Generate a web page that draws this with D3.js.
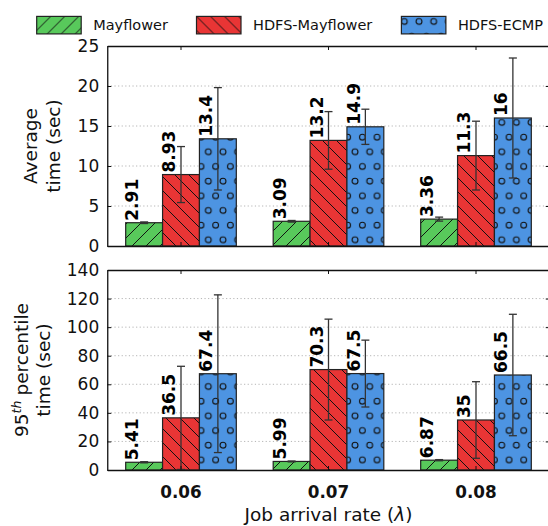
<!DOCTYPE html>
<html><head><meta charset="utf-8">
<script src="https://cdn.jsdelivr.net/npm/d3@7"></script>
<style>body{margin:0;background:#fff} svg{display:block;font-family:"DejaVu Sans",sans-serif}</style>
</head><body><svg id="chart" width="548" height="526"></svg>
<script>
// ---------- data ----------
const categories = ["0.06", "0.07", "0.08"];
const seriesNames = ["Mayflower", "HDFS-Mayflower", "HDFS-ECMP"];

const avgMayflower      = [2.91, 3.09, 3.36];
const avgHdfsMayflower  = [8.93, 13.2, 11.3];
const avgHdfsEcmp       = [13.4, 14.9, 16.0];
const avgErrMayflower     = [0.1, 0.1, 0.25];
const avgErrHdfsMayflower = [3.5, 3.6, 4.3];
const avgErrHdfsEcmp      = [6.4, 2.2, 7.5];

const p95Mayflower      = [5.41, 5.99, 6.87];
const p95HdfsMayflower  = [36.5, 70.3, 35.0];
const p95HdfsEcmp       = [67.4, 67.5, 66.5];
const p95ErrMayflower     = [0.4, 0.3, 0.4];
const p95ErrHdfsMayflower = [36.1, 35.3, 26.8];
const p95ErrHdfsEcmp      = [55.2, 23.4, 42.5];

const avgTicks = [0, 5, 10, 15, 20, 25];
const p95Ticks = [0, 20, 40, 60, 80, 100, 120, 140];

// ---------- style ----------
const seriesColors = ["#58c95b", "#e93535", "#4d94e2"];
const seriesHatch = ["hatch-ne", "hatch-nw", "hatch-circ"];
const FONT = '"DejaVu Sans", sans-serif';

const svg = d3.select("#chart");
const defs = svg.append("defs");

// hatch patterns
const s = 14;
const pNE = defs.append("pattern").attr("id", "hatch-ne").attr("patternUnits", "userSpaceOnUse")
  .attr("width", s).attr("height", s);
pNE.append("path")
  .attr("d", `M0,${s} L${s},0 M${-s/4},${s/4} L${s/4},${-s/4} M${3*s/4},${5*s/4} L${5*s/4},${3*s/4}`)
  .attr("stroke", "#111").attr("stroke-width", 1).attr("fill", "none");
const pNW = defs.append("pattern").attr("id", "hatch-nw").attr("patternUnits", "userSpaceOnUse")
  .attr("width", s).attr("height", s);
pNW.append("path")
  .attr("d", `M0,0 L${s},${s} M${-s/4},${3*s/4} L${s/4},${5*s/4} M${3*s/4},${-s/4} L${5*s/4},${s/4}`)
  .attr("stroke", "#111").attr("stroke-width", 1).attr("fill", "none");
const cs = 14.67;
const pC = defs.append("pattern").attr("id", "hatch-circ").attr("patternUnits", "userSpaceOnUse")
  .attr("width", cs).attr("height", 2 * cs);
const base = [[2.96, 5.05], [2.96 + cs / 2, 5.05 + cs]];
base.forEach(([cx, cy]) => {
  [[0,0],[cs,0],[-cs,0],[0,2*cs],[0,-2*cs]].forEach(([dx, dy]) => {
    pC.append("circle").attr("cx", cx + dx).attr("cy", cy + dy).attr("r", 2.9)
      .attr("fill", "none").attr("stroke", "#111").attr("stroke-width", 1.1);
  });
});

// ---------- scales ----------
const x = d3.scaleBand().domain(categories).range([107.25, 549.75]).paddingInner(0.25).paddingOuter(0.125);
const xs = d3.scaleBand().domain(seriesNames).range([0, x.bandwidth()]);
const fmt = v => String(Number(v.toPrecision(3)));

function panel(o) {
  const y = d3.scaleLinear().domain([0, o.ticks[o.ticks.length - 1]]).range([o.bottom, o.top]);
  const x0 = x.range()[0], x1 = x.range()[1];
  const g = svg.append("g");

  // grid
  g.append("g").selectAll("line").data(o.ticks.slice(1, -1)).join("line")
    .attr("x1", x0).attr("x2", x1).attr("y1", d => y(d)).attr("y2", d => y(d))
    .attr("stroke", "#b5b5b5").attr("stroke-width", 1).attr("stroke-dasharray", "1.2,2.4");

  // bars
  o.values.forEach((vals, si) => {
    const bars = g.append("g");
    const data = vals.map((v, ci) => ({ v, e: o.errs[si][ci], c: categories[ci] }));
    bars.selectAll("rect.fill").data(data).join("rect")
      .attr("x", d => x(d.c) + xs(seriesNames[si])).attr("width", xs.bandwidth())
      .attr("y", d => y(d.v)).attr("height", d => y(0) - y(d.v))
      .attr("fill", seriesColors[si]);
    bars.selectAll("rect.hatch").data(data).join("rect")
      .attr("x", d => x(d.c) + xs(seriesNames[si])).attr("width", xs.bandwidth())
      .attr("y", d => y(d.v)).attr("height", d => y(0) - y(d.v))
      .attr("fill", `url(#${seriesHatch[si]})`).attr("stroke", "#222").attr("stroke-width", 1.2);
  });

  // error bars + labels
  o.values.forEach((vals, si) => {
    vals.forEach((v, ci) => {
      const e = o.errs[si][ci];
      const cx = x(categories[ci]) + xs(seriesNames[si]) + xs.bandwidth() / 2;
      const eg = g.append("g").attr("stroke", "#333").attr("stroke-width", 1.3);
      eg.append("line").attr("x1", cx).attr("x2", cx).attr("y1", y(v - e)).attr("y2", y(v + e));
      eg.append("line").attr("x1", cx - 4).attr("x2", cx + 4).attr("y1", y(v - e)).attr("y2", y(v - e));
      eg.append("line").attr("x1", cx - 4).attr("x2", cx + 4).attr("y1", y(v + e)).attr("y2", y(v + e));
      const lx = x(categories[ci]) + xs(seriesNames[si]) + 12.8;
      g.append("text").attr("transform", `translate(${lx},${y(v) - 2}) rotate(-90)`)
        .attr("font-family", FONT).attr("font-weight", "bold").attr("font-size", 17)
        .attr("fill", "#000").text(fmt(v));
    });
  });

  // axes
  const axStyle = sel => {
    sel.select(".domain").attr("stroke", "#111").attr("stroke-width", 1.3);
    sel.selectAll(".tick line").attr("stroke", "#111").attr("stroke-width", 1);
    sel.selectAll("text").attr("font-family", FONT).attr("fill", "#111");
  };
  g.append("g").attr("transform", `translate(${x0},0)`)
    .call(d3.axisLeft(y).tickValues(o.ticks).tickSize(-4).tickSizeOuter(0).tickPadding(8))
    .call(axStyle).call(sel => sel.selectAll("text").attr("font-size", 17));
  g.append("g").attr("transform", `translate(${x1},0)`)
    .call(d3.axisRight(y).tickValues(o.ticks).tickSize(-4).tickSizeOuter(0).tickFormat(""))
    .call(axStyle);
  g.append("g").attr("transform", `translate(0,${o.top})`)
    .call(d3.axisTop(x).tickSize(-4).tickSizeOuter(0).tickFormat(""))
    .call(axStyle);
  const xb = g.append("g").attr("transform", `translate(0,${o.bottom})`)
    .call(d3.axisBottom(x).tickSize(-4).tickSizeOuter(0).tickPadding(15.6)
      .tickFormat(o.showX ? (d => d) : ""))
    .call(axStyle);
  xb.selectAll("text").attr("font-size", 16.8).attr("font-weight", "bold");

  // y label
  const cy = (o.top + o.bottom) / 2;
  o.label(g, cy);
}

panel({
  top: 46, bottom: 246, ticks: avgTicks,
  values: [avgMayflower, avgHdfsMayflower, avgHdfsEcmp],
  errs: [avgErrMayflower, avgErrHdfsMayflower, avgErrHdfsEcmp],
  showX: false,
  label: (g, cy) => {
    g.append("text").attr("transform", `translate(31,${cy}) rotate(-90)`)
      .attr("text-anchor", "middle").attr("dy", "0.35em").attr("font-family", FONT)
      .attr("font-size", 18.5).attr("fill", "#111").text("Average");
    g.append("text").attr("transform", `translate(53.2,${cy}) rotate(-90)`)
      .attr("text-anchor", "middle").attr("dy", "0.35em").attr("font-family", FONT)
      .attr("font-size", 18.5).attr("fill", "#111").text("time (sec)");
  }
});

panel({
  top: 270, bottom: 470, ticks: p95Ticks,
  values: [p95Mayflower, p95HdfsMayflower, p95HdfsEcmp],
  errs: [p95ErrMayflower, p95ErrHdfsMayflower, p95ErrHdfsEcmp],
  showX: true,
  label: (g, cy) => {
    const t = g.append("text").attr("transform", `translate(21.5,${cy}) rotate(-90)`)
      .attr("text-anchor", "middle").attr("font-family", FONT)
      .attr("font-size", 18.5).attr("fill", "#111");
    t.append("tspan").attr("dy", "0.35em").text("95");
    t.append("tspan").attr("dy", -7).attr("font-size", 12.5).attr("font-style", "italic").text("th");
    t.append("tspan").attr("dy", 7).attr("dx", 5).text("percentile");
    g.append("text").attr("transform", `translate(43.7,${cy}) rotate(-90)`)
      .attr("text-anchor", "middle").attr("dy", "0.35em").attr("font-family", FONT)
      .attr("font-size", 18.5).attr("fill", "#111").text("time (sec)");
  }
});

// x axis title
const xt = svg.append("text").attr("x", (x.range()[0] + x.range()[1]) / 2).attr("y", 521)
  .attr("text-anchor", "middle").attr("font-family", FONT).attr("font-size", 18.5).attr("fill", "#111");
xt.append("tspan").text("Job arrival rate (");
xt.append("tspan").attr("font-style", "italic").text("λ");
xt.append("tspan").text(")");

// legend
const legendX = [36.7, 196.5, 401.4];
const leg = svg.append("g");
seriesNames.forEach((name, i) => {
  const lg = leg.append("g").attr("transform", `translate(${legendX[i]},16.4)`);
  lg.append("rect").attr("width", 44.5).attr("height", 17.5).attr("fill", seriesColors[i]);
  lg.append("rect").attr("width", 44.5).attr("height", 17.5).attr("fill", `url(#${seriesHatch[i]})`)
    .attr("stroke", "#222").attr("stroke-width", 1.2);
  lg.append("text").attr("x", 56.5).attr("y", 8.75).attr("dy", "0.35em")
    .attr("font-family", FONT).attr("font-size", 14.5).attr("fill", "#111").text(name);
});
</script></body></html>
